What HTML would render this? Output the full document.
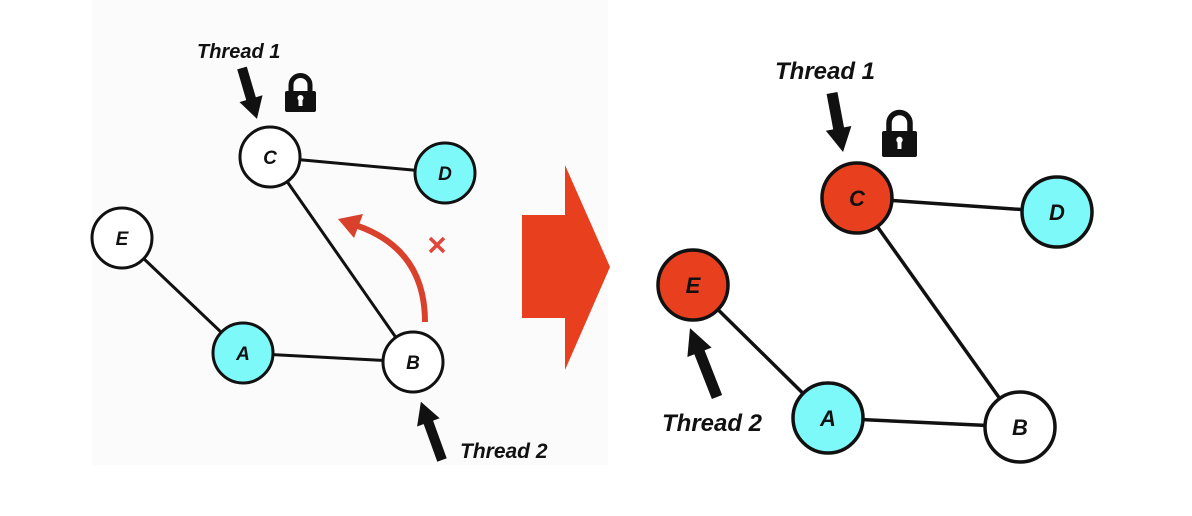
<!DOCTYPE html>
<html><head><meta charset="utf-8"><style>
html,body{margin:0;padding:0;background:#fff;}
svg{display:block;}
text{font-family:"Liberation Sans",sans-serif;font-weight:bold;font-style:italic;fill:#111;}
</style></head><body>
<svg width="1192" height="516" viewBox="0 0 1192 516" xmlns="http://www.w3.org/2000/svg">
<rect x="92" y="0" width="516" height="465" fill="#fbfbfb"/>
<g stroke="#111" stroke-width="3" fill="none">
<line x1="270" y1="157" x2="445" y2="173"/>
<line x1="270" y1="157" x2="413" y2="362"/>
<line x1="122" y1="238" x2="243" y2="353"/>
<line x1="243" y1="353" x2="413" y2="362"/>
</g>
<g stroke="#111" stroke-width="3">
<circle cx="270" cy="157" r="30" fill="#fff"/>
<circle cx="445" cy="173" r="30" fill="#7ef9fa"/>
<circle cx="122" cy="238" r="30" fill="#fff"/>
<circle cx="243" cy="353" r="30" fill="#7ef9fa"/>
<circle cx="413" cy="362" r="30" fill="#fff"/>
</g>
<g font-size="19" text-anchor="middle">
<text x="270" y="164">C</text>
<text x="445" y="180">D</text>
<text x="122" y="245">E</text>
<text x="243" y="360">A</text>
<text x="413" y="369">B</text>
</g>
<text x="197" y="58" font-size="20">Thread 1</text>
<text x="460" y="458" font-size="21">Thread 2</text>
<g fill="#111" stroke="#111">
<g transform="translate(242,68) rotate(73.6)"><line x1="0" y1="0" x2="36" y2="0" stroke-width="10"/><polygon points="32,-12 53,0 32,12" stroke="none"/></g>
<g transform="translate(442,460) rotate(-109.9)"><line x1="0" y1="0" x2="44" y2="0" stroke-width="10"/><polygon points="40,-12 62,0 40,12" stroke="none"/></g>
</g>
<g>
<path d="M291 92 V85 A9.5 9.5 0 0 1 310 85 V92" fill="none" stroke="#111" stroke-width="5"/>
<rect x="285" y="91" width="31" height="21" rx="2" fill="#111"/>
<rect x="298.5" y="97" width="4" height="9" fill="#fff"/>
<circle cx="300.5" cy="98" r="3" fill="#fff"/>
</g>
<path d="M425 322 Q425 250 358 226" fill="none" stroke="#d9412c" stroke-width="6"/>
<polygon points="338,219 363,214 354,238" fill="#d9412c"/>
<g stroke="#e0463a" stroke-width="3.5"><line x1="430" y1="238" x2="444" y2="252"/><line x1="444" y1="238" x2="430" y2="252"/></g>
<polygon points="522,215 565,215 565,165 610,267 565,370 565,318 522,318" fill="#e8401f"/>
<g stroke="#111" stroke-width="3.5" fill="none">
<line x1="857" y1="198" x2="1057" y2="212"/>
<line x1="857" y1="198" x2="1020" y2="427"/>
<line x1="693" y1="285" x2="828" y2="418"/>
<line x1="828" y1="418" x2="1020" y2="427"/>
</g>
<g stroke="#111" stroke-width="3.5">
<circle cx="857" cy="198" r="35" fill="#e8401f"/>
<circle cx="1057" cy="212" r="35" fill="#7ef9fa"/>
<circle cx="693" cy="285" r="35" fill="#e8401f"/>
<circle cx="828" cy="418" r="35" fill="#7ef9fa"/>
<circle cx="1020" cy="427" r="35" fill="#fff"/>
</g>
<g font-size="22" text-anchor="middle">
<text x="857" y="206">C</text>
<text x="1057" y="220">D</text>
<text x="693" y="293">E</text>
<text x="828" y="426">A</text>
<text x="1020" y="435">B</text>
</g>
<text x="775" y="79" font-size="24">Thread 1</text>
<text x="662" y="431" font-size="24">Thread 2</text>
<g fill="#111" stroke="#111">
<g transform="translate(832,93) rotate(79.4)"><line x1="0" y1="0" x2="40" y2="0" stroke-width="11"/><polygon points="36,-13 60,0 36,13" stroke="none"/></g>
<g transform="translate(717,397) rotate(-111.4)"><line x1="0" y1="0" x2="52" y2="0" stroke-width="11"/><polygon points="48,-13 74,0 48,13" stroke="none"/></g>
</g>
<g>
<path d="M889 133 V123 A10.5 10.5 0 0 1 910 123 V133" fill="none" stroke="#111" stroke-width="5.5"/>
<rect x="882" y="131" width="35" height="26" rx="2" fill="#111"/>
<rect x="897.5" y="139" width="4" height="10" fill="#fff"/>
<circle cx="899.5" cy="140" r="3.2" fill="#fff"/>
</g>
</svg>
</body></html>
